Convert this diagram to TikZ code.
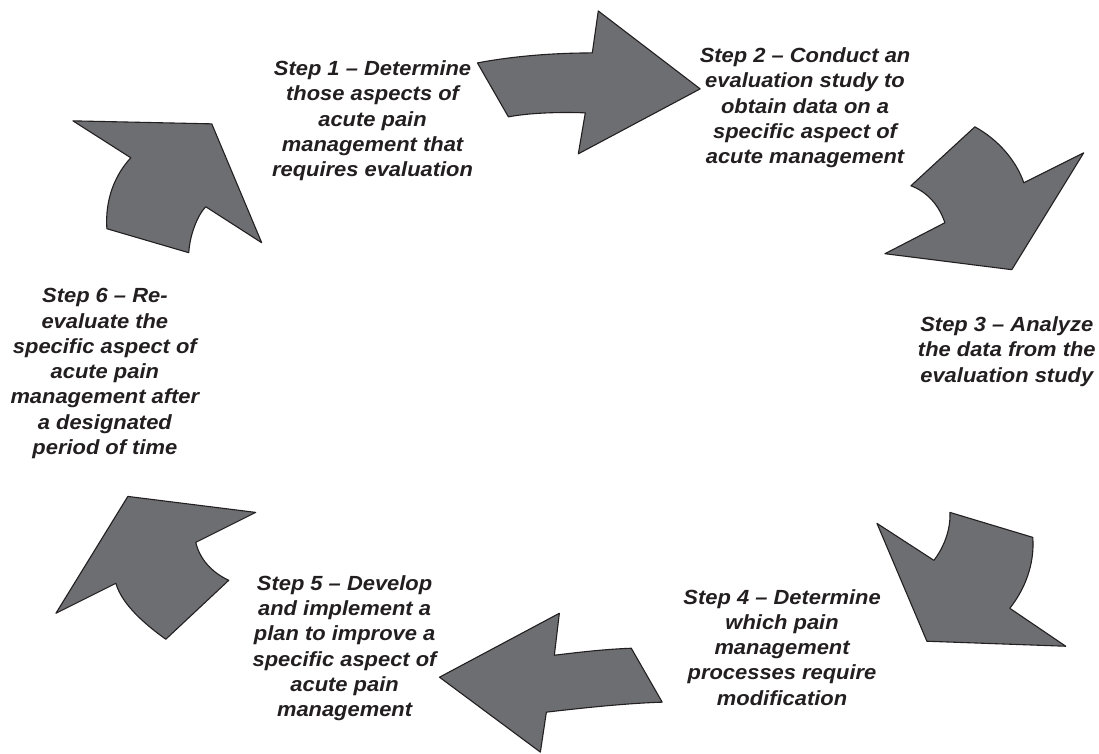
\documentclass[tikz,border=0pt]{standalone}
\usepackage{fontspec}
\setmainfont[FakeStretch=1.07]{Liberation Sans}
\usetikzlibrary{positioning}
\definecolor{cycleGray}{HTML}{6D6E71}
\definecolor{cycleInk}{HTML}{231F20}

\begin{document}
\begin{tikzpicture}[x=1pt,y=-1pt,line cap=round,line join=round]
\path[fill=white] (0,0) rectangle (1099,754);
\tikzset{bigarrow/.style={draw=cycleInk,fill=cycleGray,line width=1.1pt},steptext/.style={text=cycleInk,align=center,font=\bfseries\itshape\fontsize{20.5}{25.3}\selectfont}}
% the six curved arrows, clockwise from the top
\path[bigarrow] (478,63) .. controls (515,56) and (555,53) .. (593,53) -- (599,11) -- (701,89) -- (579,154) -- (586,113) .. controls (560,112) and (530,113) .. (509,117) -- cycle;
\path[bigarrow] (976,127) .. controls (1000,140) and (1018,162) .. (1025,183) -- (1085,153) -- (1013,270) -- (886,254) -- (946,223) .. controls (940,205) and (928,192) .. (912,186) -- cycle;
\path[bigarrow] (878,524) -- (935,561) .. controls (945,548) and (952,530) .. (951,513) -- (1034,538) .. controls (1036,565) and (1026,590) .. (1011,609) -- (1067,647) -- (928,642) -- cycle;
\path[bigarrow] (560,614) -- (555,656) .. controls (580,653) and (605,650) .. (632,649) -- (663,703) .. controls (630,704) and (590,708) .. (547,713) -- (541,753) -- (440,678) -- cycle;
\path[bigarrow] (128,497) -- (256,513) -- (196,543) .. controls (200,560) and (212,573) .. (229,581) -- (166,640) .. controls (145,625) and (122,605) .. (116,584) -- (56,614) -- cycle;
\path[bigarrow] (73,121) -- (212,124) -- (262,243) -- (206,207) .. controls (198,215) and (190,235) .. (189,253) -- (107,229) .. controls (105,200) and (115,175) .. (131,158) -- cycle;
% step labels
\node[steptext] (step1) at (373,121) {Step 1 -- Determine\\those aspects of\\acute pain\\management that\\requires evaluation};
\node[steptext] (step2) at (806,108) {Step 2 -- Conduct an\\evaluation study to\\obtain data on a\\specific aspect of\\acute management};
\node[steptext] (step3) at (1008,352) {Step 3 -- Analyze\\the data from the\\evaluation study};
\node[steptext] (step4) at (783,648) {Step 4 -- Determine\\which pain\\management\\processes require\\modification};
\node[steptext] (step5) at (345,649) {Step 5 -- Develop\\and implement a\\plan to improve a\\specific aspect of\\acute pain\\management};
\node[steptext] (step6) at (105,374) {Step 6 -- Re-\\evaluate the\\specific aspect of\\acute pain\\management after\\a designated\\period of time};
\end{tikzpicture}
\end{document}
